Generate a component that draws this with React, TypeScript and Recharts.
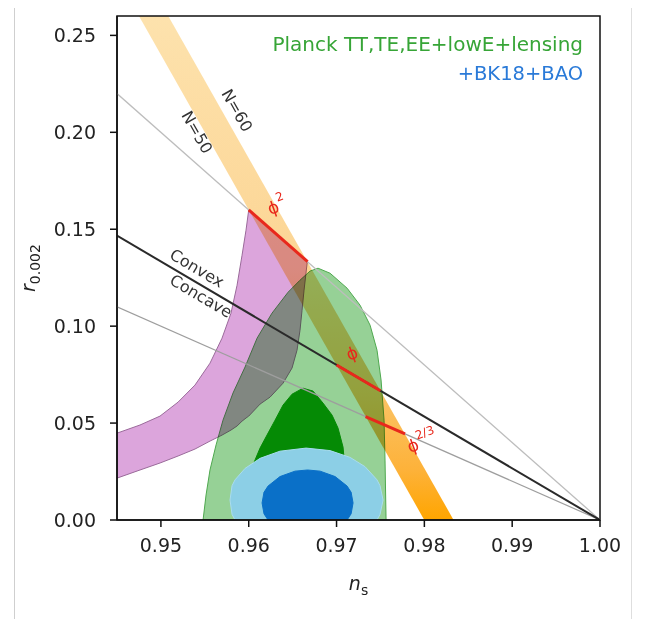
import React from 'react';
import { ComposedChart, Area, Line, XAxis, YAxis, ReferenceArea, ReferenceDot } from 'recharts';

const xTicks = [0.95, 0.96, 0.97, 0.98, 0.99, 1.0];
const yTicks = [0, 0.05, 0.1, 0.15, 0.2, 0.25];

// contours, rows are [n_s, r_low, r_high]
const planck95 = [
  [0.9548, 0, 0], [0.95514, 0, 0.0129], [0.95559, 0, 0.0258], [0.95628, 0, 0.0387],
  [0.95707, 0, 0.0515], [0.95821, 0, 0.0655], [0.95958, 0, 0.0789], [0.96095, 0, 0.0938],
  [0.96265, 0, 0.1067], [0.96448, 0, 0.1175], [0.96584, 0, 0.1237], [0.96698, 0, 0.1284],
  [0.96789, 0, 0.1299], [0.96926, 0, 0.1273], [0.9712, 0, 0.1196], [0.97268, 0, 0.1108],
  [0.97382, 0, 0.1005], [0.97461, 0, 0.0876], [0.97507, 0, 0.0722], [0.97541, 0, 0.0515],
  [0.97552, 0, 0.0309], [0.97564, 0, 0],
];
const planck68 = [
  [0.95946, 0, 0], [0.95992, 0, 0.0155], [0.96038, 0, 0.0273], [0.96129, 0, 0.0371],
  [0.96208, 0, 0.0438], [0.963, 0, 0.0515], [0.96391, 0, 0.0593], [0.96493, 0, 0.0649],
  [0.96618, 0, 0.068], [0.96732, 0, 0.0665], [0.96846, 0, 0.0603], [0.96949, 0, 0.0541],
  [0.97017, 0, 0.0474], [0.97074, 0, 0.0376], [0.97108, 0, 0.0206], [0.9712, 0, 0],
];
const bk95 = [
  [0.95787, 0.0103, 0.0103], [0.9581, 0.0029, 0.0177], [0.95844, 0, 0.0207], [0.95958, 0, 0.0266],
  [0.96129, 0, 0.0318], [0.96356, 0, 0.0355], [0.96653, 0, 0.0371], [0.96926, 0, 0.0358],
  [0.97154, 0, 0.0323], [0.97325, 0, 0.0275], [0.97461, 0, 0.0207], [0.97495, 0.0029, 0.0177],
  [0.9753, 0.0103, 0.0103],
];
const bk68 = [
  [0.96152, 0.0088, 0.0088], [0.96174, 0.0032, 0.0143], [0.9622, 0, 0.0175], [0.96356, 0, 0.0224],
  [0.96527, 0, 0.0252], [0.9667, 0, 0.0258], [0.96813, 0, 0.0252], [0.96984, 0, 0.0224],
  [0.9712, 0, 0.0175], [0.97166, 0.0032, 0.0143], [0.97188, 0.0088, 0.0088],
];
const naturalBand = [
  [0.945, 0.0216, 0.0448], [0.94762, 0.0258, 0.049], [0.9499, 0.0294, 0.0536], [0.95195, 0.033, 0.0608],
  [0.95388, 0.0366, 0.0696], [0.95559, 0.0407, 0.0809], [0.95696, 0.0438, 0.0938], [0.95798, 0.0464, 0.1067],
  [0.95867, 0.0485, 0.1211], [0.95924, 0.051, 0.1366], [0.95969, 0.0526, 0.1495], [0.96, 0.0536, 0.16],
  [0.96129, 0.0598, 0.1548], [0.96243, 0.0634, 0.1503], [0.96391, 0.0706, 0.1444], [0.96493, 0.0784, 0.1403],
  [0.9655, 0.0876, 0.138], [0.96584, 0.0979, 0.1366], [0.96607, 0.1082, 0.1357], [0.9663, 0.1186, 0.1348],
  [0.96667, 0.1333, 0.1333],
];
// N=50 .. N=60 strip
const efoldBand = [[0.945, 0.28, 0.3067], [0.98333, -0.0267, 0]];

// lines, rows are [n_s, r]
const lineP2 = [[0.945, 0.22], [1.0, 0]];
const lineP1 = [[0.945, 0.1467], [1.0, 0]];
const lineP23 = [[0.945, 0.11], [1.0, 0]];
const segP2 = [[0.96, 0.16], [0.9667, 0.1333]];
const segP1 = [[0.97, 0.08], [0.975, 0.0667]];
const segP23 = [[0.9733, 0.0533], [0.9778, 0.0444]];

const range = (rows: number[][]) => rows.map(([ns, lo, hi]) => ({ ns, r: [lo, hi] }));
const pts = (rows: number[][]) => rows.map(([ns, r]) => ({ ns, r }));

const FONT = 'DejaVu Sans';

function note(key: string, ns: number, r: number, body: React.ReactNode, style: any) {
  const { rotate = 0, anchor = 'middle', ...rest } = style;
  return (
    <ReferenceDot
      key={key}
      x={ns}
      y={r}
      r={0}
      ifOverflow="visible"
      shape={(p: any) => (
        <text
          x={p.cx}
          y={p.cy}
          textAnchor={anchor}
          dominantBaseline={anchor === 'middle' ? 'central' : 'auto'}
          transform={`rotate(${rotate} ${p.cx} ${p.cy})`}
          fontFamily={FONT}
          {...rest}
        >
          {body}
        </text>
      )}
    />
  );
}

function YLabel(props: any) {
  const { x, y, height } = props.viewBox;
  const cx = x + 27;
  const cy = y + height / 2;
  return (
    <text x={cx} y={cy} transform={`rotate(-90 ${cx} ${cy})`} textAnchor="middle" fontFamily={FONT} fontSize={19} fill="#222">
      <tspan fontStyle="italic">r</tspan>
      <tspan fontSize={14} dy={5}>0.002</tspan>
    </text>
  );
}

function XLabel(props: any) {
  const { x, y, width } = props.viewBox;
  return (
    <text x={x + width / 2} y={y + 70} textAnchor="middle" fontFamily={FONT} fontSize={19} fill="#222">
      <tspan fontStyle="italic">n</tspan>
      <tspan fontSize={14} dy={5}>s</tspan>
    </text>
  );
}

const off = { dot: false, activeDot: false, isAnimationActive: false } as const;

export default function App() {
  return (
    <div style={{ position: 'relative', width: 650, height: 611, fontFamily: FONT }}>
      <style>{'.blend { mix-blend-mode: multiply; }'}</style>
      <div style={{ position: 'absolute', left: 6, top: -8, width: 1, height: 619, background: '#cfcfcf' }} />
      <div style={{ position: 'absolute', left: 623, top: -8, width: 1, height: 619, background: '#dedede' }} />
      <ComposedChart width={650} height={611} margin={{ top: 8, right: 58, left: 0, bottom: 0 }}>
        <defs>
          <linearGradient id="efold" gradientUnits="userSpaceOnUse" x1="0" y1="8" x2="0" y2="512">
            <stop offset="0%" stopColor="#fde2ad" />
            <stop offset="50%" stopColor="#fcd594" />
            <stop offset="75%" stopColor="#fbc366" />
            <stop offset="90%" stopColor="#fdb23a" />
            <stop offset="100%" stopColor="#ffa500" />
          </linearGradient>
        </defs>
        <XAxis
          type="number"
          dataKey="ns"
          domain={[0.945, 1.0]}
          ticks={xTicks}
          interval={0}
          allowDataOverflow
          height={99}
          tickSize={7}
          tickMargin={12}
          tickFormatter={(v: number) => v.toFixed(2)}
          tick={{ fontSize: 19, fill: '#222', fontFamily: FONT }}
          axisLine={{ stroke: '#111', strokeWidth: 1.5 }}
          tickLine={{ stroke: '#111', strokeWidth: 1.5 }}
          label={{ content: XLabel }}
        />
        <YAxis
          type="number"
          domain={[0, 0.26]}
          ticks={yTicks}
          interval={0}
          allowDataOverflow
          width={109}
          tickSize={7}
          tickMargin={14}
          tickFormatter={(v: number) => v.toFixed(2)}
          tick={{ fontSize: 19, fill: '#222', fontFamily: FONT }}
          axisLine={{ stroke: '#111', strokeWidth: 1.5 }}
          tickLine={{ stroke: '#111', strokeWidth: 1.5 }}
          label={{ content: YLabel }}
        />

        <Area data={range(planck95)} dataKey="r" type="linear" fill="#96d196" fillOpacity={1} stroke="#4ea84e" strokeWidth={1} {...off} />
        <Area data={range(planck68)} dataKey="r" type="linear" fill="#058a05" fillOpacity={1} stroke="#058a05" strokeWidth={1} {...off} />
        <Area data={range(bk95)} dataKey="r" type="linear" fill="#8ccfe6" fillOpacity={1} stroke="#a9dcef" strokeWidth={1} {...off} />
        <Area data={range(bk68)} dataKey="r" type="linear" fill="#0a70c8" fillOpacity={1} stroke="#0a70c8" strokeWidth={1} {...off} />
        <Area data={range(naturalBand)} dataKey="r" type="linear" className="blend" fill="#dca5dc" fillOpacity={1} stroke="#9a6a9a" strokeWidth={1} {...off} />
        <Area data={range(efoldBand)} dataKey="r" type="linear" className="blend" fill="url(#efold)" fillOpacity={1} stroke="none" {...off} />

        <Line data={pts(lineP2)} dataKey="r" type="linear" stroke="#bdbdbd" strokeWidth={1.3} {...off} />
        <Line data={pts(lineP23)} dataKey="r" type="linear" stroke="#9e9e9e" strokeWidth={1.2} {...off} />
        <Line data={pts(lineP1)} dataKey="r" type="linear" stroke="#2a2a2a" strokeWidth={2} {...off} />
        <Line data={pts(segP2)} dataKey="r" type="linear" stroke="#e8281c" strokeWidth={3} {...off} />
        <Line data={pts(segP1)} dataKey="r" type="linear" stroke="#e8281c" strokeWidth={3} {...off} />
        <Line data={pts(segP23)} dataKey="r" type="linear" stroke="#e8281c" strokeWidth={3} {...off} />

        {note('n60', 0.95867, 0.2113, 'N=60', { rotate: 60.5, fontSize: 16, fill: '#333' })}
        {note('n50', 0.95411, 0.2, 'N=50', { rotate: 60.5, fontSize: 16, fill: '#333' })}
        {note('convex', 0.95411, 0.1299, 'Convex', { rotate: 30.5, fontSize: 16, fill: '#333' })}
        {note('concave', 0.95457, 0.1155, 'Concave', { rotate: 30.5, fontSize: 16, fill: '#333' })}
        {note('p2', 0.9632, 0.1619, <>ϕ<tspan fontSize={12} dy={-8}>2</tspan></>, { rotate: -20, fontSize: 17, fill: '#e8281c' })}
        {note('p1', 0.97177, 0.0861, 'ϕ', { rotate: -20, fontSize: 17, fill: '#e8281c' })}
        {note('p23', 0.97974, 0.0402, <>ϕ<tspan fontSize={12} dy={-8}>2/3</tspan></>, { rotate: -20, fontSize: 17, fill: '#e8281c' })}
        {note('planck', 0.99807, 0.2418, 'Planck TT,TE,EE+lowE+lensing', { anchor: 'end', fontSize: 20, fill: '#37a537' })}
        {note('bk', 0.99807, 0.2268, '+BK18+BAO', { anchor: 'end', fontSize: 19.5, fill: '#2a7ad8' })}

        <ReferenceArea x1={0.945} x2={1.0} y1={0} y2={0.26} fill="none" stroke="#111" strokeWidth={1.5} ifOverflow="visible" />
      </ComposedChart>
    </div>
  );
}
